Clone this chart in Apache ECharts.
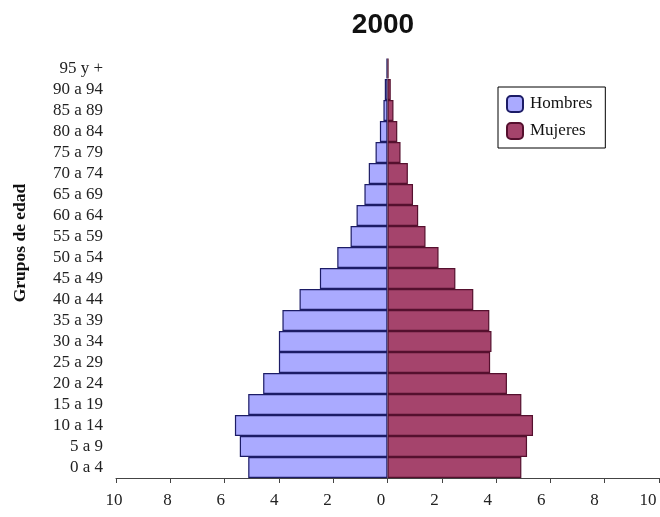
<!DOCTYPE html>
<html>
<head>
<meta charset="utf-8">
<script src="https://cdn.jsdelivr.net/npm/echarts@6/dist/echarts.min.js"></script>
<style>
  html, body { margin: 0; padding: 0; background: #fff; }
  #chart { width: 660px; height: 517px; }
</style>
</head>
<body>
<div id="chart"></div>
<script>
// Grupos de edad, de abajo hacia arriba
const grupos = ['0 a 4', '5 a 9', '10 a 14', '15 a 19', '20 a 24', '25 a 29', '30 a 34',
  '35 a 39', '40 a 44', '45 a 49', '50 a 54', '55 a 59', '60 a 64', '65 a 69',
  '70 a 74', '75 a 79', '80 a 84', '85 a 89', '90 a 94', '95 y +'];

// Porcentaje de la población por sexo
const hombres = [5.13, 5.44, 5.62, 5.13, 4.58, 4.0, 4.0, 3.87, 3.24, 2.49,
  1.85, 1.36, 1.14, 0.85, 0.69, 0.44, 0.28, 0.15, 0.1, 0.04];
const mujeres = [4.93, 5.14, 5.36, 4.93, 4.4, 3.78, 3.83, 3.75, 3.16, 2.5,
  1.88, 1.4, 1.13, 0.94, 0.75, 0.48, 0.36, 0.22, 0.12, 0.04];

const xTicks = { min: -10, max: 10, interval: 2 };

const serif = '"Liberation Serif", "DejaVu Serif", serif';
const chart = echarts.init(document.getElementById('chart'), null, { renderer: 'canvas' });

const labelStyle = { fontFamily: serif, fontSize: 17, color: '#222' };

chart.setOption({
  animation: false,
  backgroundColor: '#ffffff',
  title: {
    text: '2000',
    left: 378,
    top: 6,
    textAlign: 'center',
    textStyle: { fontFamily: '"Liberation Sans", Arial, sans-serif', fontSize: 28, fontWeight: 'bold', color: '#111' }
  },
  legend: {
    orient: 'vertical',
    left: 498,
    top: 87,
    padding: [8, 13, 8, 8],
    itemWidth: 16,
    itemHeight: 16,
    itemGap: 9,
    icon: 'roundRect',
    borderColor: '#000',
    borderWidth: 1,
    textStyle: { fontFamily: serif, fontSize: 17, color: '#111', padding: [0, 0, 0, 2] },
    data: ['Hombres', 'Mujeres']
  },
  grid: [
    // plot area
    { left: 116, right: 1, top: 58, bottom: 39, containLabel: false, outerBoundsMode: 'none' },
    // tick-label band, slightly narrower so the last label stays inside the canvas
    { left: 114, right: 12, top: 58, bottom: 39, containLabel: false, outerBoundsMode: 'none' }
  ],
  xAxis: [
    {
      type: 'value',
      gridIndex: 0,
      min: xTicks.min,
      max: xTicks.max,
      interval: xTicks.interval,
      splitLine: { show: false },
      axisLine: { show: true, onZero: false, lineStyle: { color: '#444', width: 1 } },
      axisTick: { show: true, length: 5, lineStyle: { color: '#444' } },
      axisLabel: { show: false }
    },
    {
      type: 'value',
      gridIndex: 1,
      min: xTicks.min,
      max: xTicks.max,
      interval: xTicks.interval,
      splitLine: { show: false },
      axisLine: { show: false, onZero: false },
      axisTick: { show: false },
      axisLabel: Object.assign({
        margin: 14,
        hideOverlap: false,
        formatter: v => String(Math.abs(v))
      }, labelStyle)
    }
  ],
  yAxis: [
    {
      type: 'category',
      gridIndex: 0,
      data: grupos,
      axisLine: { show: false },
      axisTick: { show: false },
      axisLabel: Object.assign({ interval: 0, hideOverlap: false, margin: 13 }, labelStyle)
    },
    {
      type: 'category',
      gridIndex: 1,
      data: grupos,
      show: false
    }
  ],
  graphic: [{
    type: 'text',
    x: 20,
    y: 243,
    rotation: Math.PI / 2,
    style: {
      text: 'Grupos de edad',
      fontFamily: serif,
      fontSize: 17.5,
      fontWeight: 'bold',
      fill: '#111',
      textAlign: 'center',
      textVerticalAlign: 'middle'
    }
  }],
  series: [
    {
      name: 'Hombres',
      type: 'bar',
      stack: 'piramide',
      barCategoryGap: '0%',
      data: hombres.map(v => -v),
      itemStyle: { color: '#aaaaff', borderColor: '#1c1c66', borderWidth: 1.2 }
    },
    {
      name: 'Mujeres',
      type: 'bar',
      stack: 'piramide',
      barCategoryGap: '0%',
      data: mujeres,
      itemStyle: { color: '#a5446c', borderColor: '#55102e', borderWidth: 1.2 }
    }
  ]
});
</script>
</body>
</html>
